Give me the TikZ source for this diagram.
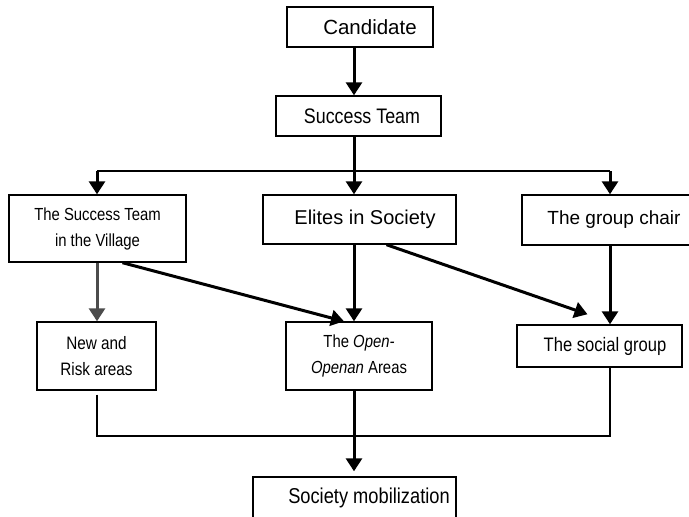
\documentclass[tikz,border=0pt]{standalone}
\usepackage{fontspec}
\setmainfont{Liberation Sans}
\newfontfamily\narrowfont[FakeStretch=0.85]{Liberation Sans}
\usetikzlibrary{arrows.meta}

\begin{document}
\begin{tikzpicture}[x=1pt,y=-1pt]
        \tikzset{box/.style={draw,line width=1.4pt,inner sep=0pt,align=center},
          wide/.style={font=\fontsize{#1}{26}\selectfont},
          slim/.style={font=\narrowfont\fontsize{#1}{26}\selectfont},
          arr/.style={line width=3pt,-{Triangle[length=13pt,width=16pt]}},
          greyarr/.style={arr,draw=black!70},
          link/.style={line width=1.4pt}}
        \useasboundingbox (0,0) rectangle (689,517);
        % columns and rails
        \coordinate (lcol) at (97,0);
        \coordinate (mcol) at (354,0);
        \coordinate (rcol) at (610,0);
        \coordinate (top) at (0,171);
        \coordinate (low) at (0,436);
        % boxes
        \node[box,wide=20.5,minimum width=146,minimum height=40] (cand) at (360,27) {\hspace*{20pt}Candidate};
        \node[box,slim=21,minimum width=165,minimum height=40] (team) at (358.5,116) {\hspace*{7pt}Success Team};
        \node[box,slim=17.5,minimum width=177,minimum height=67] (vill) at (97.5,228.5) {The Success Team\\in the Village};
        \node[box,wide=20,minimum width=193,minimum height=49] (elite) at (359.5,219.5) {\hspace*{11pt}Elites in Society};
        \node[box,wide=19,minimum width=184,minimum height=50] (chair) at (614,220) {The group chair};
        \node[box,slim=18,minimum width=119,minimum height=68] (risk) at (96.5,356) {New and\\Risk areas};
        \node[box,slim=17.5,minimum width=146,minimum height=68] (open) at (359,356) {The \textit{Open-}\\\textit{Openan} Areas};
        \node[box,slim=19.5,minimum width=165,minimum height=42] (social) at (599.5,346) {\hspace*{11pt}The social group};
        \node[box,slim=21.5,minimum width=203,minimum height=42] (mob) at (354.5,498) {\hspace*{29pt}Society mobilization};
        % connectors
        \draw[arr] (cand.south -| mcol) -- (team.north -| mcol);
        \draw[line width=3pt] (team.south -| mcol) -- (top -| mcol);
        \draw[link] (top -| lcol) -- (top -| rcol);
        \draw[arr] (top -| lcol) -- (vill.north -| lcol);
        \draw[arr] (top -| mcol) -- (elite.north -| mcol);
        \draw[arr] (top -| rcol) -- (chair.north -| rcol);
        \draw[greyarr] (vill.south -| lcol) -- (risk.north -| lcol);
        \draw[arr] ([xshift=25pt]vill.south) -- ([xshift=-15pt]open.north);
        \draw[arr] (elite.south -| mcol) -- (open.north -| mcol);
        \draw[arr] ([xshift=27pt]elite.south) -- ([xshift=-12pt,yshift=10pt]social.north);
        \draw[arr] (chair.south -| rcol) -- (social.north -| rcol);
        \draw[link,shorten <=4pt] (risk.south -| lcol) -- (low -| lcol) -- (low -| rcol) -- (social.south -| rcol);
        \draw[arr,shorten >=5pt] (open.south -| mcol) -- (mob.north -| mcol);
      \end{tikzpicture}
\end{document}
